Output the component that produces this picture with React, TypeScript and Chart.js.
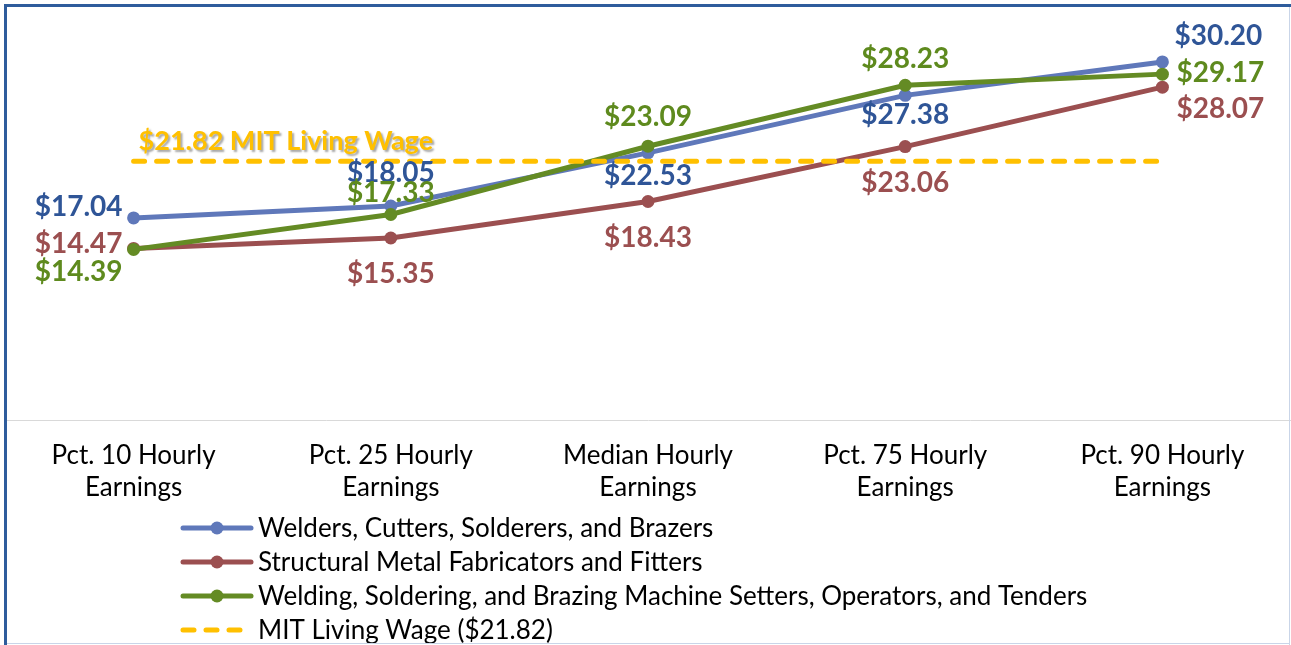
import React, { useEffect, useRef } from 'react';
import { Chart, registerables } from 'chart.js';
Chart.register(...registerables);

const categories = [
  ['Pct. 10 Hourly', 'Earnings'],
  ['Pct. 25 Hourly', 'Earnings'],
  ['Median Hourly', 'Earnings'],
  ['Pct. 75 Hourly', 'Earnings'],
  ['Pct. 90 Hourly', 'Earnings'],
];
const seriesNames = [
  'Welders, Cutters, Solderers, and Brazers',
  'Structural Metal Fabricators and Fitters',
  'Welding, Soldering, and Brazing Machine Setters, Operators, and Tenders',
  'MIT Living Wage ($21.82)',
];
const welders = [17.04, 18.05, 22.53, 27.38, 30.2];
const fabricators = [14.47, 15.35, 18.43, 23.06, 28.07];
const machineOps = [14.39, 17.33, 23.09, 28.23, 29.17];
const livingWage = [21.82, 21.82, 21.82, 21.82, 21.82];
const livingWageLabel = '$21.82 MIT Living Wage';

const lineColors = ['#5F78BA', '#9B4F50', '#648B24', '#FFC000'];
const labelColors = ['#2F5597', '#9B4F50', '#5E8A1E'];

// label placement relative to each point: [dx, dy, align]
const placements: [number, number, CanvasTextAlign][][] = [
  [[-11, -11, 'right'], [0, -33, 'center'], [0, 23, 'center'], [0, 20, 'center'], [56, -26, 'center']],
  [[-11, -4, 'right'], [0, 36, 'center'], [0, 36, 'center'], [0, 36, 'center'], [58, 22, 'center']],
  [[-11, 23, 'right'], [0, -22, 'center'], [0, -29, 'center'], [0, -26, 'center'], [58, -1, 'center']],
];

const FONT = 'Lato, "Open Sans", sans-serif';

const overlayPlugin = {
  id: 'overlay',
  afterDraw(chart: any) {
    const ctx = chart.ctx as CanvasRenderingContext2D;
    ctx.save();
    // value labels
    ctx.font = `bold 28px ${FONT}`;
    ctx.textBaseline = 'middle';
    for (let di = 0; di < 3; di++) {
      const meta = chart.getDatasetMeta(di);
      const vals = chart.data.datasets[di].data as number[];
      meta.data.forEach((pt: any, i: number) => {
        const [dx, dy, align] = placements[di][i];
        ctx.fillStyle = labelColors[di];
        ctx.textAlign = align;
        ctx.fillText('$' + vals[i].toFixed(2), pt.x + dx, pt.y + dy);
      });
    }
    // living wage label
    const wMeta = chart.getDatasetMeta(3);
    const p0 = wMeta.data[0];
    ctx.save();
    ctx.font = `bold 27px ${FONT}`;
    ctx.textAlign = 'left';
    ctx.textBaseline = 'middle';
    ctx.shadowColor = 'rgba(0,0,0,0.35)';
    ctx.shadowOffsetX = 2;
    ctx.shadowOffsetY = 2;
    ctx.shadowBlur = 2;
    ctx.fillStyle = '#FFC000';
    ctx.fillText(livingWageLabel, p0.x + 5, p0.y - 20);
    ctx.restore();

    // legend
    const lx0 = 181, lx1 = 253, tx = 258, y0 = 528, step = 34;
    ctx.font = `26px ${FONT}`;
    ctx.textAlign = 'left';
    ctx.textBaseline = 'middle';
    seriesNames.forEach((name, i) => {
      const y = y0 + i * step;
      ctx.strokeStyle = lineColors[i];
      ctx.lineWidth = 5;
      ctx.lineCap = 'round';
      if (i === 3) {
        ctx.setLineDash([11, 12]);
      } else {
        ctx.setLineDash([]);
      }
      ctx.beginPath();
      ctx.moveTo(lx0 + 2, y);
      ctx.lineTo(lx1 - 2, y);
      ctx.stroke();
      ctx.setLineDash([]);
      if (i < 3) {
        ctx.fillStyle = lineColors[i];
        ctx.beginPath();
        ctx.arc((lx0 + lx1) / 2, y, 6.5, 0, Math.PI * 2);
        ctx.fill();
      }
      ctx.fillStyle = '#000000';
      ctx.fillText(name, tx, y + 1);
    });
    ctx.restore();
  },
};

export default function App() {
  const ref = useRef<HTMLCanvasElement>(null);
  useEffect(() => {
    document.body.style.margin = '0';
    const mk = (label: string, data: number[], i: number, order: number) => ({
      label,
      data,
      borderColor: lineColors[i],
      backgroundColor: lineColors[i],
      borderWidth: 5,
      pointRadius: 6.5,
      pointHoverRadius: 6.5,
      pointBorderWidth: 0,
      pointBackgroundColor: lineColors[i],
      tension: 0,
      order,
    });
    const chart = new Chart(ref.current!, {
      type: 'line',
      data: {
        labels: categories,
        datasets: [
          mk(seriesNames[0], welders, 0, 3),
          mk(seriesNames[1], fabricators, 1, 2),
          mk(seriesNames[2], machineOps, 2, 1),
          {
            label: seriesNames[3],
            data: livingWage,
            borderColor: lineColors[3],
            backgroundColor: lineColors[3],
            borderWidth: 5,
            borderDash: [11, 12],
            borderCapStyle: 'round',
            pointRadius: 0,
            order: 0,
          } as any,
        ],
      },
      options: {
        animation: false,
        responsive: false,
        layout: { autoPadding: false, padding: { left: 5, right: -1, top: 5, bottom: 135 } },
        plugins: { legend: { display: false }, tooltip: { enabled: false } },
        scales: {
          x: {
            offset: true,
            grid: { display: false, drawTicks: false },
            border: { display: true, color: '#D9D9D9', width: 1 },
            ticks: {
              color: '#000000',
              padding: 20,
              maxRotation: 0,
              autoSkip: false,
              font: { family: FONT, size: 26, lineHeight: 1.23 },
            },
            afterFit: (s: any) => { s.height = 90; },
          },
          y: {
            display: false,
            min: 0,
            max: 35,
          },
        },
      },
      plugins: [overlayPlugin],
    });
    return () => chart.destroy();
  }, []);
  return (
    <div style={{ position: 'relative', width: 1291, height: 645, overflow: 'hidden', background: '#fff' }}>
      <canvas ref={ref} width={1291} height={645} style={{ display: 'block', width: 1291, height: 645 }} />
      <div style={{ position: 'absolute', left: 4, top: 4, width: 1287, height: 3, background: '#2E5C9C' }} />
      <div style={{ position: 'absolute', left: 4, top: 4, width: 3, height: 641, background: '#2E5C9C' }} />
      <div style={{ position: 'absolute', left: 1289, top: 7, width: 1, height: 638, background: '#C9D5E8' }} />
      <div style={{ position: 'absolute', left: 7, top: 643, width: 1282, height: 1, background: '#C9D5E8' }} />
    </div>
  );
}
